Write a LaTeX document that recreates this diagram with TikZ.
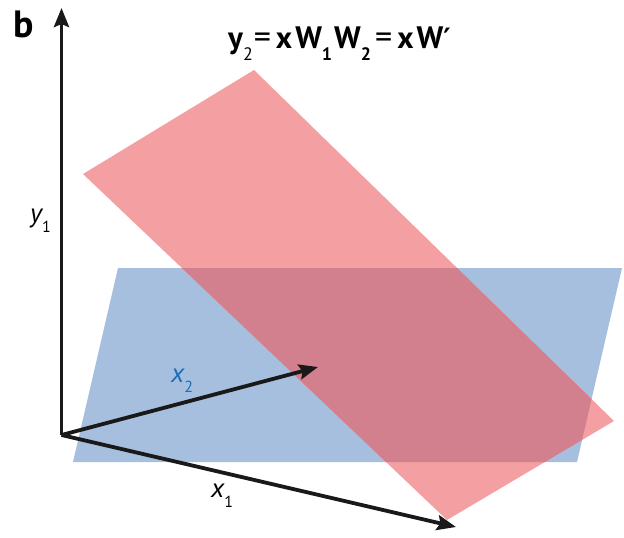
\documentclass[tikz,border=0pt]{standalone}
\usepackage{fontspec}
\setmainfont{PT Sans}
\newfontfamily\djv{DejaVu Sans}
\usetikzlibrary{arrows.meta}
\definecolor{planeblue}{RGB}{166,191,223}
\definecolor{planered}{RGB}{244,160,163}
\definecolor{overlap}{RGB}{210,127,142}
\definecolor{labblue}{RGB}{26,110,180}
\newcommand\axlab[2]{{\fontsize{27}{27}\selectfont\itshape #1}\raisebox{-10pt}{\fontsize{16}{16}\selectfont #2}}
\newcommand\tsub[1]{\raisebox{-12pt}{\fontsize{18}{18}\selectfont #1}}
\begin{document}
\begin{tikzpicture}[x=1pt,y=-1pt,
  axis/.style={line width=3.8pt,black!90,-{Stealth[length=19pt,width=15pt,inset=3pt]}},
  lab/.style={inner sep=0pt,anchor=base west}]
\useasboundingbox (0,0) rectangle (624,538);
% planes
\path[fill=planeblue] (73,462) -- (118,268) -- (622,268) -- (577,462) -- cycle;
\path[fill=planered] (83,174) -- (254,70) -- (614,421) -- (447,520) -- cycle;
\begin{scope}
\clip (73,462) -- (118,268) -- (622,268) -- (577,462) -- cycle;
\path[fill=overlap] (83,174) -- (254,70) -- (614,421) -- (447,520) -- cycle;
\end{scope}
% axes
\coordinate (o) at (61.5,435);
\coordinate (ytip) at (61.5,8);
\coordinate (x2tip) at (318,367);
\coordinate (x1tip) at (456,527);
\draw[axis] (o) -- (ytip);
\draw[axis] (o) -- (x2tip);
\draw[axis] (o) -- (x1tip);
% labels
\node[lab] (ylab) at (30,222) {\axlab{y}{1}};
\node[lab,text=labblue] (x2lab) at (171,382) {\axlab{x}{2}};
\node[lab] (x1lab) at (211,497) {\axlab{x}{1}};
\node[lab] (b) at (13,37) {\fontsize{38}{38}\selectfont\bfseries b};
\node[lab] (title) at (228,48) {\fontsize{31}{31}\selectfont\bfseries y\raisebox{-12pt}{\mdseries\fontsize{18}{18}\selectfont 2}\hspace{1pt}{\mdseries\fontsize{34}{34}\selectfont =}\hspace{5pt}x\hspace{3pt}W\tsub{1}\hspace{2pt}W\tsub{2}\hspace{4pt}{\mdseries\fontsize{34}{34}\selectfont =}\hspace{5pt}x\hspace{3pt}W{\djv\bfseries\fontsize{28}{28}\selectfont ′}};
\end{tikzpicture}
\end{document}
